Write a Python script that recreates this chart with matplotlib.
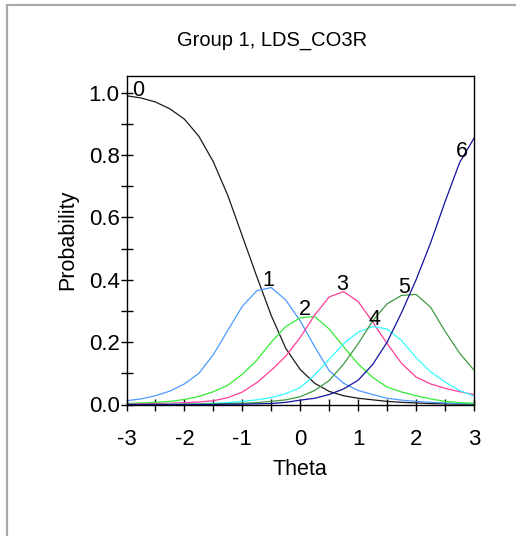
import numpy as np
import matplotlib
matplotlib.use("Agg")
import matplotlib.pyplot as plt
from matplotlib.patches import Rectangle
from matplotlib.ticker import MultipleLocator, FormatStrFormatter, FuncFormatter

plt.rcParams['font.family'] = ['Liberation Sans', 'DejaVu Sans']

title = "Group 1, LDS_CO3R"
x_label = "Theta"
y_label = "Probability"

theta = [-3.0, -2.75, -2.5, -2.25, -2.0, -1.75, -1.5, -1.25, -1.0, -0.75, -0.5, -0.25,
         0.0, 0.25, 0.5, 0.75, 1.0, 1.25, 1.5, 1.75, 2.0, 2.25, 2.5, 2.75, 3.0]

cat0 = [0.990, 0.983, 0.970, 0.948, 0.915, 0.860, 0.778, 0.670, 0.540, 0.410, 0.285, 0.180,
        0.112, 0.068, 0.042, 0.028, 0.020, 0.015, 0.010, 0.007, 0.005, 0.003, 0.002, 0.001, 0.001]
cat1 = [0.012, 0.018, 0.028, 0.043, 0.066, 0.100, 0.160, 0.238, 0.315, 0.365, 0.375, 0.335,
        0.268, 0.185, 0.108, 0.068, 0.045, 0.032, 0.020, 0.014, 0.010, 0.007, 0.005, 0.003, 0.002]
cat2 = [0.003, 0.005, 0.007, 0.010, 0.016, 0.026, 0.041, 0.062, 0.097, 0.142, 0.200, 0.250,
        0.278, 0.282, 0.242, 0.185, 0.130, 0.087, 0.056, 0.040, 0.028, 0.018, 0.010, 0.006, 0.004]
cat3 = [0.001, 0.002, 0.003, 0.004, 0.006, 0.008, 0.012, 0.022, 0.040, 0.070, 0.110, 0.155,
        0.215, 0.287, 0.345, 0.362, 0.330, 0.265, 0.195, 0.132, 0.088, 0.066, 0.052, 0.041, 0.032]
cat4 = [0.000, 0.000, 0.000, 0.001, 0.001, 0.002, 0.004, 0.006, 0.010, 0.015, 0.022, 0.035,
        0.054, 0.095, 0.145, 0.195, 0.232, 0.250, 0.242, 0.205, 0.150, 0.105, 0.072, 0.045, 0.027]
cat5 = [0.000, 0.000, 0.000, 0.000, 0.001, 0.001, 0.002, 0.003, 0.004, 0.006, 0.010, 0.015,
        0.025, 0.045, 0.077, 0.130, 0.195, 0.268, 0.323, 0.350, 0.353, 0.312, 0.235, 0.165, 0.110]
cat6 = [0.000, 0.000, 0.000, 0.000, 0.000, 0.000, 0.000, 0.001, 0.001, 0.002, 0.003, 0.007,
        0.014, 0.020, 0.032, 0.050, 0.078, 0.128, 0.200, 0.295, 0.400, 0.518, 0.650, 0.775, 0.854]

categories = ["0", "1", "2", "3", "4", "5", "6"]
series = [cat0, cat1, cat2, cat3, cat4, cat5, cat6]
colors = ["#1a1a1a", "#4d9bff", "#33ee33", "#ff3d98", "#33ffff", "#3f9a3f", "#12129e"]
label_x = [-2.8, -0.55, 0.08, 0.72, 1.29, 1.79, 2.79]

W, H = 516, 536
fig = plt.figure(figsize=(W / 100, H / 100), dpi=100)

# window frame
fig.add_artist(Rectangle((7 / W, -0.2), 1.5, (H - 5) / H + 0.2, transform=fig.transFigure,
                         fill=False, edgecolor="#a8a8a8", linewidth=1.6))

left, right, top, bottom = 126.5, 474, 75.5, 404.5
ax = fig.add_axes([left / W, 1 - bottom / H, (right - left) / W, (bottom - top) / H])

for vals, col in zip(series, colors):
    ax.plot(theta, vals, color=col, linewidth=0.9, solid_joinstyle="round")

for cat, vals, lx in zip(categories, series, label_x):
    ly = np.interp(lx, theta, vals) + 0.024
    ax.text(lx, ly, cat, fontsize=15.5, ha="center", va="center", color="#000000")

ax.set_xlim(-3, 3)
ax.set_ylim(0, 1.055)
ax.xaxis.set_major_locator(MultipleLocator(1))
ax.xaxis.set_minor_locator(MultipleLocator(0.5))
ax.yaxis.set_major_locator(MultipleLocator(0.2))
ax.yaxis.set_minor_locator(MultipleLocator(0.1))
ax.yaxis.set_major_formatter(FormatStrFormatter("%.1f"))
ax.xaxis.set_major_formatter(FuncFormatter(lambda v, p: f"{v:g}"))

ax.tick_params(axis="both", which="both", direction="inout", length=9, width=1.0, color="#000000")
ax.tick_params(axis="x", which="both", pad=13, labelsize=16)
ax.tick_params(axis="y", which="both", pad=0.5, labelsize=16)
for sp in ax.spines.values():
    sp.set_linewidth(1.0)
    sp.set_color("#000000")

fig.text(271.7 / W, 1 - 41 / H, title, fontsize=14.5, ha="center", va="center")
fig.text(300 / W, 1 - 469.5 / H, x_label, fontsize=15.5, ha="center", va="center")
fig.text(68 / W, 1 - 240 / H, y_label, fontsize=15.5, ha="center", va="center", rotation=90)

fig.savefig("out.png", dpi=100, facecolor="white")
